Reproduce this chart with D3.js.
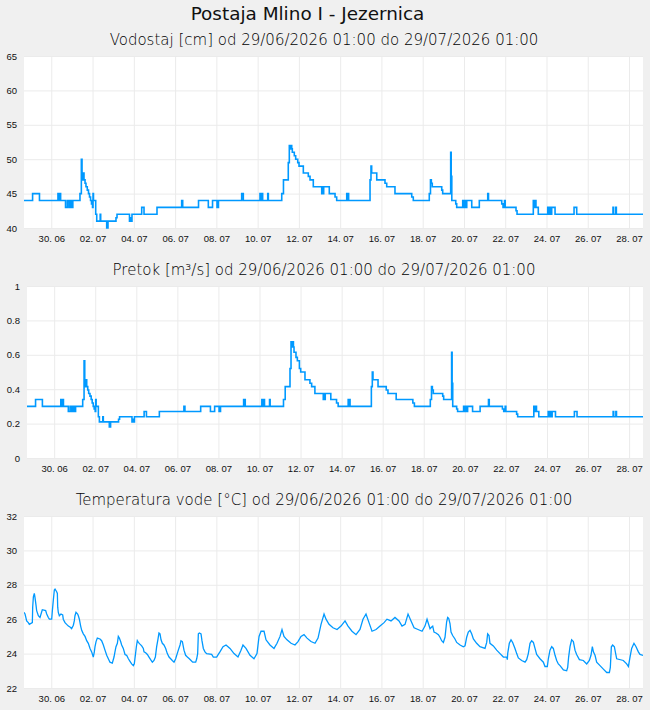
<!DOCTYPE html>
<html lang="sl">
  <head>
    <meta charset="utf-8">
    <title>Postaja Mlino I - Jezernica</title>
    <script src="https://cdn.jsdelivr.net/npm/d3@7"></script>
    <style>
      body { margin: 0; background: #f0f0f0; }
      svg { display: block; font-family: "DejaVu Sans", sans-serif; }
      .tick text { font-size: 9.5px; fill: #111; }
      .tick line { stroke: #ebebeb; }
      .sub { font-size: 15px; font-weight: 200; fill: #000; }
    </style>
  </head>
  <body>
    <script>
      var w = 650;
      var h = 710;

      // x = hours since 29/06/2026 01:00
      var xTickLabels = ["30. 06", "02. 07", "04. 07", "06. 07", "08. 07", "10. 07", "12. 07", "14. 07",
                         "16. 07", "18. 07", "20. 07", "22. 07", "24. 07", "26. 07", "28. 07"];
      var xTickHours = xTickLabels.map(function(d, i) { return 31.75 + 48 * i; });

      var levelTicks = [40, 45, 50, 55, 60, 65];
      var flowTicks = [0, 0.2, 0.4, 0.6, 0.8, 1];
      var tempTicks = [22, 24, 26, 28, 30, 32];

      // vodostaj [cm]
      var levelData = [[0,44],[10,45],[18,44],[39.5,45],[40.2,44],[41.9,45],[42.6,44],[48.3,43],[50.4,44],[52.3,43],[53.9,44],[55.6,43],[56.8,44],[65.1,45],[66.7,50],[67.5,48],[68.3,47],[69,48],[69.8,47],[71,46.5],[72.1,46],[73.6,45.5],[75,45],[76.2,44.5],[77.4,44],[78.5,43.5],[79.7,43],[80.3,45],[80.8,44],[83.4,42],[84.6,41],[88.6,42],[89.2,41],[96.2,40],[97.7,41],[107,41.5],[108.2,42],[122.7,41],[123.9,41.5],[124.5,41],[125.6,42],[136.9,43],[139.6,42],[154.7,43],[183.4,44],[184.6,43],[203,44],[214.4,43],[219.3,44],[224.5,43],[226.2,44],[253.2,45],[255.1,44],[274.5,45],[275.3,44],[276.8,45],[277.6,44],[283.5,45],[284.2,44],[299.8,45],[301.8,47],[307.4,49.5],[308.6,52],[310,51.5],[310.6,52],[311.4,51.5],[312.1,51],[314.4,50.5],[316,50],[318.4,49.5],[319.9,49],[324.9,48],[330.7,47.5],[332.7,47],[336.5,46],[346.3,45],[347,46],[347.8,45],[348.6,46],[355.1,45],[361.8,44.5],[363.7,44],[375.4,45],[376.1,44],[376.9,45],[377.6,44],[402.5,47],[403.6,49],[404.4,48],[410.3,47],[419.9,46.5],[421.9,46],[431.5,45],[451,44.5],[452.8,44],[471.4,45],[472.8,47],[473.8,46.5],[474.9,46],[485.9,45.5],[487,45],[496.3,51],[496.9,45],[497.3,47.5],[497.6,44],[502.2,43.5],[503.3,43],[510.3,44],[511.8,43],[513,44],[514.1,43],[515,44],[520.8,43],[529.6,44],[539.4,45],[540.3,44],[555.7,43.5],[557.2,43],[558.9,44],[559.7,43],[572.3,42.5],[573.5,42],[592.4,44],[593.4,43],[594.8,44],[595.5,43],[598.2,42],[609.2,43],[610.3,42],[611.5,43],[612.4,42],[613.8,43],[617.7,42],[639.8,43],[642.9,42],[685.1,43],[685.8,42],[688.3,43],[689,42],[720,42]];

      // pretok [m3/s]
      var flowData = [[0,0.30],[10,0.34],[18,0.30],[39.5,0.34],[40.2,0.30],[41.9,0.34],[42.6,0.30],[48.3,0.27],[50.4,0.30],[52.3,0.27],[53.9,0.30],[55.6,0.27],[56.8,0.30],[65.1,0.34],[66.7,0.565],[67.5,0.455],[68.3,0.415],[69,0.455],[69.8,0.415],[71,0.395],[72.1,0.375],[73.6,0.36],[75,0.34],[76.2,0.32],[77.4,0.30],[78.5,0.285],[79.7,0.27],[80.3,0.34],[80.8,0.30],[83.4,0.24],[84.6,0.21],[88.6,0.24],[89.2,0.21],[96.2,0.18],[97.7,0.21],[107,0.225],[108.2,0.24],[122.7,0.21],[123.9,0.225],[124.5,0.21],[125.6,0.24],[136.9,0.27],[139.6,0.24],[154.7,0.27],[183.4,0.30],[184.6,0.27],[203,0.30],[214.4,0.27],[219.3,0.30],[224.5,0.27],[226.2,0.30],[253.2,0.34],[255.1,0.30],[274.5,0.34],[275.3,0.30],[276.8,0.34],[277.6,0.30],[283.5,0.34],[284.2,0.30],[299.8,0.34],[301.8,0.415],[307.4,0.52],[308.6,0.675],[310,0.645],[310.6,0.675],[311.4,0.645],[312.1,0.615],[314.4,0.585],[316,0.565],[318.4,0.52],[319.9,0.50],[324.9,0.455],[330.7,0.435],[332.7,0.415],[336.5,0.375],[346.3,0.34],[347,0.375],[347.8,0.34],[348.6,0.375],[355.1,0.34],[361.8,0.32],[363.7,0.30],[375.4,0.34],[376.1,0.30],[376.9,0.34],[377.6,0.30],[402.5,0.415],[403.6,0.50],[404.4,0.455],[410.3,0.415],[419.9,0.395],[421.9,0.375],[431.5,0.34],[451,0.32],[452.8,0.30],[471.4,0.34],[472.8,0.415],[473.8,0.395],[474.9,0.375],[485.9,0.36],[487,0.34],[496.3,0.615],[496.9,0.34],[497.3,0.435],[497.6,0.30],[502.2,0.285],[503.3,0.27],[510.3,0.30],[511.8,0.27],[513,0.30],[514.1,0.27],[515,0.30],[520.8,0.27],[529.6,0.30],[539.4,0.34],[540.3,0.30],[555.7,0.285],[557.2,0.27],[558.9,0.30],[559.7,0.27],[572.3,0.255],[573.5,0.24],[592.4,0.30],[593.4,0.27],[594.8,0.30],[595.5,0.27],[598.2,0.24],[609.2,0.27],[610.3,0.24],[611.5,0.27],[612.4,0.24],[613.8,0.27],[617.7,0.24],[639.8,0.27],[642.9,0.24],[685.1,0.27],[685.8,0.24],[688.3,0.27],[689,0.24],[720,0.24]];

      // temperatura vode [°C]
      var tempData = [[0,26.4],[1.2,26.3],[3.1,25.9],[5,25.8],[6.2,25.7],[9.7,25.8],[10.1,26.7],[10.9,27.3],[12,27.5],[12.8,27.25],[14,26.8],[14.7,26.5],[16.7,26.2],[18.6,26.1],[21.3,26.55],[25.2,26.5],[26.4,26.3],[28.3,26.1],[29.5,26.0],[32.2,26.0],[33,26.5],[34.1,27.1],[35.3,27.7],[36.1,27.75],[38,27.6],[38.8,27.5],[39.2,26.7],[39.9,26.4],[41.1,26.2],[43,26.3],[45,26.25],[45.7,26.0],[47.7,25.8],[49.6,25.7],[51.6,25.6],[53.5,25.55],[55.4,25.45],[57.4,25.65],[58.5,25.9],[59.3,26.2],[60.5,26.4],[62.4,26.3],[63.2,26.2],[64.4,26.0],[65.9,25.6],[67.1,25.35],[69,25.15],[71,25.0],[72.9,24.75],[74.8,24.6],[76.8,24.3],[78.7,24.1],[80.6,23.8],[81.8,24.1],[82.6,24.4],[83.8,24.7],[85.3,24.9],[88.4,24.85],[90.3,24.75],[92.3,24.5],[94.2,24.2],[96.2,23.9],[98.1,23.7],[100,23.5],[102.7,23.45],[104.7,23.8],[105.8,24.1],[107,24.4],[108.6,24.6],[109.7,25.0],[110.9,24.9],[112.4,24.7],[113.6,24.5],[115.5,24.3],[117.5,23.95],[119.4,23.9],[121.4,23.7],[123.3,23.55],[125.2,23.4],[127.2,23.3],[128.3,23.4],[129.5,23.9],[130.7,24.4],[131.8,24.75],[133,24.65],[134.9,24.55],[136.9,24.45],[138.8,24.3],[139.6,24.1],[141.5,24.05],[143.5,23.95],[145.4,23.8],[147.3,23.65],[149.3,23.5],[151.2,23.6],[152.8,23.8],[154.3,24.4],[155.9,24.85],[157,25.2],[158.2,25.15],[159.4,24.8],[160.9,24.6],[162.8,24.5],[164.8,24.3],[166.7,24.0],[168.7,23.8],[170.6,23.7],[172.5,23.6],[174.5,23.5],[176.4,23.7],[177.6,23.9],[179.5,24.2],[181.5,24.5],[182.6,24.75],[184.2,24.7],[186.1,24.2],[188,23.9],[190,23.8],[192.3,23.7],[194.3,23.6],[196.2,23.5],[199.7,23.5],[200.9,23.7],[202,24.0],[202.8,25.15],[204,25.2],[205.9,25.15],[207,24.75],[208.6,24.3],[210.5,24.1],[212.4,24.0],[218.3,23.95],[220.2,23.8],[224.1,23.8],[226,23.95],[227.9,24.1],[231.5,24.4],[235,24.5],[239.6,24.3],[244.3,24.0],[248.9,23.8],[252.4,24.2],[254.7,24.5],[258.2,24.3],[262.9,23.9],[267.5,23.7],[271,24.0],[273.4,25.0],[275.7,25.3],[279.2,25.3],[281.5,24.8],[286.1,24.5],[290.8,24.3],[294.3,24.6],[297.8,25.0],[300.1,25.4],[302.4,25.0],[305.9,24.8],[310.6,24.6],[315.2,24.5],[318.7,24.7],[322.2,25.0],[325.7,25.1],[329.2,24.9],[333.8,24.7],[338.5,24.6],[342,24.9],[345.5,25.7],[349,26.3],[351.3,26.0],[354.8,25.7],[359.4,25.5],[364.1,25.4],[368.7,25.6],[373.4,25.9],[376.9,25.6],[381.5,25.3],[386.2,25.1],[390.8,25.4],[394.3,26.0],[397.8,26.3],[401.3,25.8],[404.8,25.3],[409.5,25.4],[414.1,25.6],[418.8,25.8],[422.2,26.0],[426.9,25.9],[431.5,26.1],[436.2,25.9],[439.7,25.6],[443.2,25.7],[446.7,26.3],[450.2,25.9],[453.7,25.5],[458.3,25.4],[463,25.3],[466.4,25.6],[468.8,26.0],[472.3,25.45],[474.2,25.55],[475.4,25.6],[476.9,25.25],[479.2,25.2],[482,25.1],[483.9,24.95],[485.8,24.75],[487.8,24.65],[489.7,24.95],[491.6,25.85],[492.8,26.1],[494,26.05],[495.5,25.75],[496.7,25.25],[498.6,25.05],[501.3,24.85],[503.3,24.65],[507.2,24.5],[511,24.4],[513,24.45],[514.9,24.95],[516.8,25.25],[518.8,25.35],[520.7,25.15],[522.7,24.85],[526.5,24.6],[530.4,24.4],[536.2,24.3],[538.2,24.65],[539.3,25.15],[540.9,25.05],[542,24.6],[545.9,24.45],[549.8,24.2],[553.7,24.0],[557.6,23.8],[561.4,23.8],[562.2,23.65],[562.6,24.0],[564.5,24.6],[566.5,24.8],[568.4,24.65],[571.1,24.3],[573.1,24.0],[575,23.75],[578.9,23.6],[582.8,23.5],[584.7,23.65],[586.6,24.0],[588.6,24.6],[590.5,24.75],[592.5,24.65],[594.4,24.3],[596.3,23.95],[600.2,23.7],[604.1,23.5],[606,23.25],[608.7,23.25],[609.9,23.7],[611.8,24.2],[613.8,24.4],[615.7,24.3],[617.7,23.9],[619.6,23.6],[621.5,23.4],[623.5,23.3],[627.4,23.05],[631.2,23.0],[632.4,23.2],[633.5,23.8],[635.1,24.4],[637,24.8],[639,24.7],[640.9,24.2],[642.8,23.95],[646,23.65],[650.6,23.6],[654.5,23.4],[657.6,23.6],[659.5,23.9],[661.1,24.4],[662.3,24.1],[664.2,23.9],[666.1,23.5],[670,23.3],[673.9,23.1],[677.8,22.9],[680.9,22.9],[682,23.2],[683.2,24.4],[684.7,24.5],[686.7,24.4],[688.2,24.0],[689.4,23.7],[697.1,23.6],[701,23.4],[703,23.25],[704.9,23.8],[706.8,24.3],[709.5,24.6],[711.9,24.4],[714.6,24.1],[716.5,23.95],[720,23.9]];

      var period = " od 29/06/2026 01:00 do 29/07/2026 01:00";
      var lineColor = "#0099ff";

      var svg = d3.select("body")
        .append("svg")
        .attr("width", w)
        .attr("height", h);

      svg.append("text")
        .attr("x", 307.5)
        .attr("y", 20)
        .attr("text-anchor", "middle")
        .style("font-size", "18.4px")
        .style("fill", "#111")
        .text("Postaja Mlino I - Jezernica");

      function drawPanel(id, title, data, domain, ticks, fmt, left, top, curve, strokeW) {
        var right = 643, bottom = top + 172;
        var xScale = d3.scaleLinear().domain([0, 720]).range([left, right]);
        var yScale = d3.scaleLinear().domain(domain).range([bottom, top]);

        svg.append("text")
          .attr("class", "sub")
          .attr("x", 324)
          .attr("y", top - 11)
          .attr("text-anchor", "middle")
          .text(title + period);

        svg.append("rect")
          .attr("x", left).attr("y", top)
          .attr("width", right - left).attr("height", bottom - top)
          .attr("fill", "#fff");

        var yAxis = d3.axisLeft(yScale)
          .tickValues(ticks)
          .tickSize(-(right - left))
          .tickPadding(7)
          .tickFormat(fmt);
        var xAxis = d3.axisBottom(xScale)
          .tickValues(xTickHours)
          .tickSize(-(bottom - top))
          .tickPadding(7)
          .tickFormat(function(d, i) { return xTickLabels[i]; });

        svg.append("g")
          .attr("transform", "translate(" + left + ",0)")
          .call(yAxis)
          .call(function(g) { g.select(".domain").remove(); });
        svg.append("g")
          .attr("transform", "translate(0," + bottom + ")")
          .call(xAxis)
          .call(function(g) { g.select(".domain").remove(); });

        svg.append("clipPath").attr("id", "clip" + id)
          .append("rect")
          .attr("x", left).attr("y", top - 2)
          .attr("width", right - left).attr("height", bottom - top + 4);

        var line = d3.line()
          .x(function(d) { return xScale(d[0]); })
          .y(function(d) { return yScale(d[1]); })
          .curve(curve);

        svg.append("path")
          .datum(data)
          .attr("clip-path", "url(#clip" + id + ")")
          .attr("fill", "none")
          .attr("stroke", lineColor)
          .attr("stroke-width", strokeW)
          .attr("d", line);
      }

      drawPanel(1, "Vodostaj [cm]", levelData, [40, 65], levelTicks, d3.format("d"), 24, 56, d3.curveStepAfter, 1.6);
      drawPanel(2, "Pretok [m³/s]", flowData, [0, 1], flowTicks, function(d) { return String(d); }, 27, 286, d3.curveStepAfter, 1.6);
      drawPanel(3, "Temperatura vode [°C]", tempData, [22, 32], tempTicks, d3.format("d"), 24, 516, d3.curveLinear, 1.3);
    </script>
  </body>
</html>
